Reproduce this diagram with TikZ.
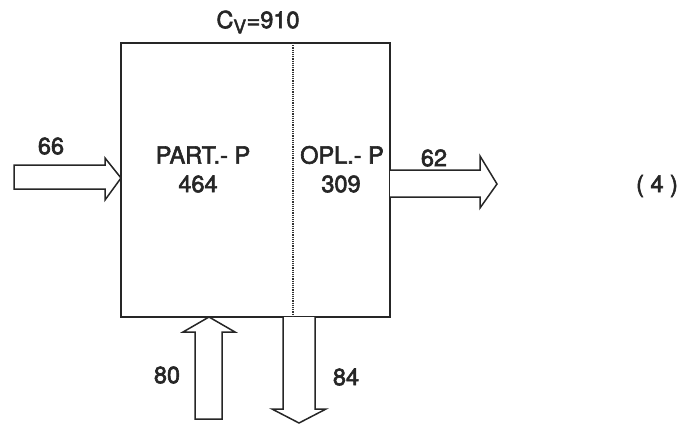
\documentclass[tikz,border=0pt]{standalone}
\usepackage{fontspec}
\setmainfont{TeX Gyre Heros}
\newfontfamily\lblfont[RawFeature={embolden=2.6}]{TeX Gyre Heros}
\begin{document}
\begin{tikzpicture}[x=1pt,y=-1pt,
  line width=1.6pt,
  lbl/.style={font=\lblfont\fontsize{23.5}{27}\selectfont, text=black!85, inner sep=0pt},
  flow/.style={draw=black!85, line width=1.5pt, line join=miter, fill=white}]
\useasboundingbox (0,0) rectangle (698,424);
\node[draw=black!85, line width=1.8pt, minimum width=269pt, minimum height=274pt, inner sep=0pt] (box) at (255.5,180) {};
\coordinate (dtop) at (293,43);
\coordinate (dbot) at (293,317);
\draw[black!80, line width=1.2pt, densely dotted] (dtop) -- (dbot);
% left inflow arrow (66)
\draw[flow] (14,165) -- (105,165) -- (105,158) -- (121,178) -- (105,200) -- (105,189) -- (14,189) -- cycle;
% right outflow arrow (62)
\draw[flow] (390,170) -- (480,170) -- (480,156) -- (497,184) -- (480,208) -- (480,197) -- (390,197);
% up arrow (80)
\draw[flow] (195,419) -- (195,332) -- (183,332) -- (209,317) -- (235,332) -- (222,332) -- (222,419) -- cycle;
% down arrow (84)
\draw[flow] (283,317) -- (283,409) -- (272,409) -- (299,423) -- (326,409) -- (315,409) -- (315,317);
% labels
\node[lbl] (cv) at (258,22) {C\textsubscript{\fontsize{19}{22}\selectfont V}=910};
\node[lbl] (l66) at (51,146) {66};
\node[lbl] (part) at (203,155) {PART.- P};
\node[lbl] (n464) at (198,184) {464};
\node[lbl] (opl) at (342,155) {OPL.- P};
\node[lbl] (n309) at (341,184) {309};
\node[lbl] (l62) at (434,158) {62};
\node[lbl] (eq) at (657,186) {( 4 )};
\node[lbl] (l80) at (167,375) {80};
\node[lbl] (l84) at (346,377) {84};
\end{tikzpicture}
\end{document}
